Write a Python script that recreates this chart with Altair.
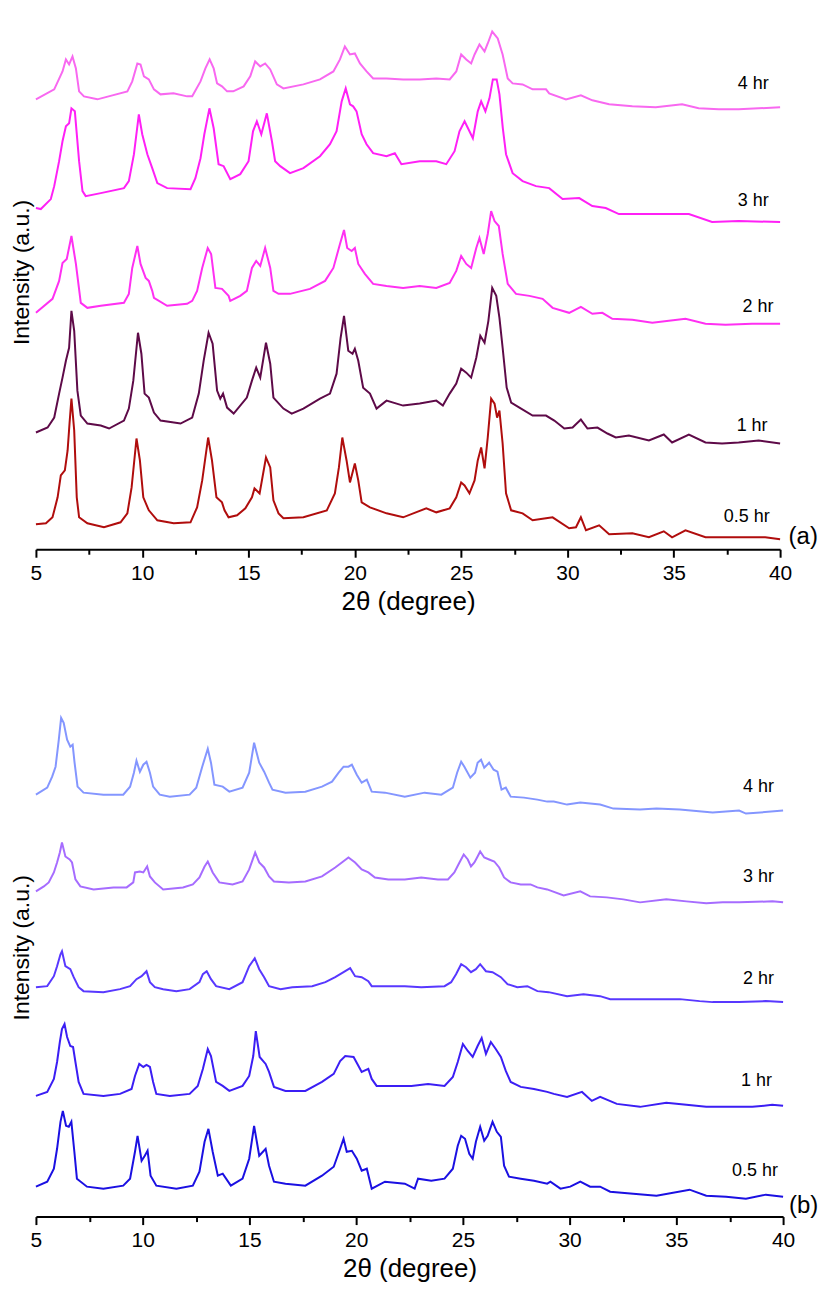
import altair as alt
import pandas as pd

FONT = "Liberation Sans"
SERIES = ["4 hr", "3 hr", "2 hr", "1 hr", "0.5 hr"]
X_TICKS = [5, 7.5, 10, 12.5, 15, 17.5, 20, 22.5, 25, 27.5, 30, 32.5, 35, 37.5, 40]

# ---------------- Panel (a) : 2theta (degree) / intensity (a.u., stacked) ----------------
a4_x = [5.00,5.86,6.25,6.41,6.56,6.72,6.88,7.03,7.26,7.89,9.30,9.53,9.77,9.92,10.08,10.31,10.55,10.86,11.47,12.11,
        12.35,12.74,12.97,13.17,13.36,13.52,13.75,13.99,14.28,14.77,15.08,15.31,15.55,15.78,16.02,16.33,16.64,17.58,18.36,18.99,
        19.30,19.53,19.77,20.00,20.24,20.55,20.86,21.49,22.27,23.05,23.83,24.46,24.77,25.00,25.24,25.47,25.63,25.86,26.10,26.25,
        26.46,26.72,26.95,27.19,27.42,27.89,28.36,28.99,29.14,29.93,30.63,31.17,31.96,33.05,34.15,35.39,36.17,37.11,38.05,38.99,40.00]
a4_y = [451,461,479,491,486,494,482,459,454,451,459,469,487,486,474,471,461,456,457,454,
        454,469,482,491,482,467,464,459,459,464,474,489,484,487,481,466,462,466,471,479,
        491,504,496,497,487,479,472,472,471,471,472,471,479,496,491,487,496,506,499,507,
        519,512,496,472,467,466,461,461,457,451,455,450,446,444,443,446,442,441,441,442,443]

a3_x = [5.00,5.23,5.70,5.86,6.09,6.25,6.41,6.56,6.67,6.83,7.03,7.19,7.34,8.05,9.14,9.37,9.61,9.84,10.00,10.24,
        10.47,10.71,11.17,12.27,12.50,12.74,12.92,13.16,13.36,13.59,13.83,14.14,14.61,15.00,15.21,15.39,15.60,15.86,16.10,16.25,
        16.49,16.95,17.58,18.36,18.83,19.14,19.38,19.57,19.77,19.92,20.08,20.32,20.55,20.86,21.49,21.88,22.19,23.05,23.83,24.30,
        24.69,24.92,25.16,25.39,25.55,25.78,25.94,26.14,26.33,26.49,26.67,26.80,26.96,27.11,27.42,27.89,28.52,29.14,29.77,30.55,
        31.17,31.80,32.42,33.36,34.61,35.71,36.80,38.05,40.00]
a3_y = [342,341,351,364,389,409,424,427,442,439,389,359,354,357,362,369,396,436,416,396,
        382,367,362,361,372,392,416,442,422,386,384,371,376,389,419,429,416,437,409,389,
        384,377,382,394,406,419,449,462,446,444,439,416,406,397,394,397,386,389,389,386,
        399,419,429,419,412,439,449,439,452,471,471,456,422,396,377,369,364,362,351,352,
        344,342,336,336,336,336,328,329,328]

a2_x = [5.00,5.78,6.09,6.25,6.45,6.67,6.88,7.11,7.42,8.05,9.14,9.37,9.53,9.77,9.92,10.16,10.31,10.47,10.55,11.17,
        12.11,12.35,12.58,12.82,13.08,13.24,13.44,13.75,14.06,14.14,14.61,14.92,15.16,15.36,15.55,15.78,16.02,16.17,16.41,16.95,
        17.89,18.60,18.99,19.30,19.49,19.64,19.85,20.00,20.16,20.47,20.86,21.49,22.27,23.05,23.83,24.46,24.77,25.00,25.24,25.47,
        25.71,25.86,26.06,26.25,26.41,26.57,26.77,26.95,27.19,27.58,28.21,28.83,29.30,30.08,30.63,31.17,31.64,32.11,33.05,33.99,
        35.55,36.49,37.43,38.68,40.00]
a2_y = [237,251,269,287,291,314,286,247,242,244,247,256,282,304,286,272,269,259,252,244,
        246,249,259,282,302,296,262,261,254,249,254,259,282,289,284,302,282,259,256,256,
        261,269,282,306,320,302,299,302,286,276,266,264,262,264,262,267,279,294,286,282,
        302,312,296,316,339,329,324,296,266,256,254,251,242,237,243,236,237,231,230,227,
        231,226,225,226,226]

a1_x = [5.00,5.55,5.86,6.09,6.25,6.41,6.49,6.56,6.67,6.80,6.95,7.11,7.42,8.05,8.44,9.14,9.37,9.58,9.80,9.96,
        10.11,10.31,10.55,10.86,11.80,12.35,12.66,12.89,13.12,13.31,13.52,13.67,13.80,13.99,14.30,14.92,15.16,15.36,15.55,15.82,
        16.02,16.17,16.64,17.03,17.58,18.36,18.83,19.14,19.33,19.49,19.69,19.89,20.00,20.16,20.39,20.71,21.02,21.49,22.27,23.05,
        23.83,24.14,24.46,24.77,25.00,25.24,25.47,25.71,25.90,26.10,26.28,26.46,26.65,26.80,26.95,27.14,27.35,27.74,28.36,28.99,
        29.38,29.85,30.24,30.63,30.94,31.41,31.88,32.27,32.89,33.83,34.53,34.92,35.71,36.49,37.27,38.05,38.99,40.00]
a1_y = [117,122,132,156,172,189,196,202,239,219,159,134,126,124,121,129,141,169,217,196,
        156,152,137,129,126,132,156,189,217,206,159,151,156,142,136,152,169,182,172,207,
        186,152,141,136,141,151,156,176,212,234,199,196,201,189,162,156,141,149,144,146,
        149,144,156,166,181,177,172,192,214,207,229,262,254,232,202,162,147,142,134,134,
        129,121,122,130,121,122,116,112,114,109,115,107,115,107,106,107,109,106]

a05_x = [5.00,5.47,5.78,6.02,6.17,6.36,6.49,6.58,6.67,6.80,6.92,7.03,7.42,8.20,8.98,9.30,9.50,9.73,9.89,10.05,
         10.31,10.71,11.48,12.27,12.58,12.82,13.10,13.28,13.49,13.75,13.87,14.06,14.46,14.85,15.16,15.28,15.52,15.82,16.02,16.17,
         16.41,16.64,17.58,18.68,19.06,19.25,19.41,19.61,19.77,20.00,20.16,20.32,20.71,21.49,22.27,23.36,23.83,24.46,24.77,25.00,
         25.16,25.39,25.63,25.78,25.94,26.10,26.25,26.41,26.57,26.69,26.80,26.95,27.11,27.35,27.89,28.36,28.99,29.30,30.08,30.40,
         30.63,30.87,31.49,31.96,33.05,33.83,34.53,34.92,35.55,36.49,37.43,38.37,39.30,40.00]
a05_y = [25,26,32,52,74,79,99,126,151,119,52,32,26,22,27,36,62,111,89,52,
         39,29,26,27,42,69,112,89,52,47,39,32,34,41,52,61,56,92,82,49,
         36,31,32,39,56,82,112,89,67,86,69,47,42,36,32,41,37,41,52,67,
         64,56,69,89,102,81,112,151,146,132,139,106,56,39,36,29,31,32,21,22,
         32,19,24,15,16,12,18,12,19,12,12,12,12,10]

# ---------------- Panel (b) ----------------
b4_x = [5.00,5.53,5.76,5.92,6.07,6.18,6.30,6.46,6.61,6.72,6.81,6.95,7.23,8.16,9.09,9.41,9.59,9.71,9.87,10.03,
        10.18,10.34,10.49,10.80,11.27,12.20,12.51,12.79,13.05,13.20,13.36,13.75,14.06,14.68,14.99,15.22,15.46,15.69,15.92,16.08,
        16.69,17.62,18.40,18.87,19.18,19.41,19.64,19.80,20.03,20.26,20.50,20.73,21.35,22.28,23.21,23.99,24.53,24.73,24.92,25.07,
        25.35,25.57,25.69,25.85,26.00,26.23,26.44,26.62,26.81,27.01,27.24,27.86,28.49,28.95,29.26,29.88,30.50,31.43,32.05,33.30,
        34.07,35.16,36.70,37.94,38.26,40.00]
b4_y = [423,430,441,451,478,500,495,478,471,473,455,431,425,423,423,431,445,457,446,453,
        456,445,431,423,421,423,430,451,469,455,433,431,426,430,445,475,455,446,435,428,
        425,426,431,436,445,451,451,453,443,435,438,426,425,421,425,423,430,445,456,451,
        440,445,455,458,450,455,448,446,428,430,421,420,418,416,416,413,415,413,409,408,
        409,408,405,407,404,407]

b3_x = [5.00,5.37,5.60,5.84,5.99,6.12,6.22,6.38,6.58,6.69,6.85,7.08,7.70,8.63,9.25,9.56,9.64,9.87,10.03,10.21,
        10.34,10.57,10.96,11.89,12.35,12.66,12.90,13.05,13.28,13.59,14.21,14.68,14.99,15.27,15.46,15.69,15.92,16.15,16.85,17.62,
        18.40,19.02,19.33,19.64,19.95,20.26,20.57,20.88,21.51,22.28,23.05,23.83,24.30,24.60,24.84,25.04,25.23,25.38,25.54,25.69,
        25.81,26.00,26.23,26.47,26.70,26.93,27.24,27.71,28.17,28.49,28.95,29.72,30.50,30.96,31.74,32.52,33.30,34.53,35.47,36.40,
        37.17,37.94,39.50,40.00]
b3_y = [326,331,335,345,355,365,375,361,358,355,338,331,328,330,330,335,345,346,345,351,
        341,335,328,330,333,340,351,356,345,335,333,336,348,365,355,350,341,336,335,336,
        341,350,355,360,355,348,345,340,338,338,340,338,338,345,355,363,358,351,355,361,
        366,360,358,356,350,340,335,333,333,330,328,322,326,321,320,318,315,318,316,314,
        315,315,316,315]

b2_x = [5.00,5.53,5.84,5.99,6.15,6.22,6.38,6.61,6.77,7.00,7.23,8.16,8.94,9.41,9.71,9.95,10.18,10.34,10.57,10.96,
        11.58,12.20,12.66,12.82,13.00,13.20,13.44,14.06,14.68,14.99,15.25,15.46,15.69,15.92,16.46,17.01,17.94,18.56,19.02,19.41,
        19.72,19.95,20.26,20.57,20.73,21.51,22.28,23.05,24.14,24.45,24.68,24.92,25.15,25.38,25.61,25.81,26.08,26.39,26.78,27.09,
        27.55,28.02,28.49,29.02,29.88,30.65,31.43,31.90,32.98,34.07,35.16,36.09,36.70,37.94,39.19,40.00]
b2_y = [230,231,241,251,263,266,251,248,240,230,226,225,228,231,238,241,246,235,230,228,
        226,228,235,243,246,238,231,228,235,251,259,248,240,231,228,230,231,235,240,245,
        249,241,240,236,231,231,231,230,231,235,243,253,250,245,248,253,246,245,240,233,
        230,231,226,225,221,223,221,218,218,218,218,216,215,215,216,215]

b1_x = [5.00,5.53,5.84,5.99,6.12,6.22,6.34,6.46,6.61,6.74,6.85,7.00,7.23,8.16,8.94,9.48,9.64,9.84,10.03,10.18,
        10.34,10.49,10.64,11.27,12.20,12.58,12.82,13.05,13.20,13.44,13.75,14.06,14.68,14.99,15.18,15.30,15.48,15.76,15.92,16.15,
        16.69,17.62,18.40,18.95,19.25,19.49,19.88,20.11,20.26,20.57,20.73,20.96,21.66,22.59,23.37,24.14,24.53,24.76,25.00,25.23,
        25.46,25.69,25.88,26.08,26.31,26.54,26.78,27.01,27.24,27.71,28.33,28.95,29.26,29.88,30.58,31.04,31.43,32.21,33.30,34.53,
        35.47,36.40,37.33,38.56,39.49,40.00]
b1_y = [121,125,138,155,175,188,193,180,171,170,155,135,123,121,123,128,141,153,150,152,
        150,135,123,121,123,131,148,168,161,135,131,126,131,141,161,186,160,153,145,130,
        126,126,135,143,156,161,160,151,145,148,138,131,131,131,133,131,140,155,173,166,
        160,171,179,163,175,168,160,146,135,130,128,125,123,120,125,116,120,113,110,114,
        112,110,110,110,112,111]

b05_x = [5.00,5.53,5.84,5.99,6.15,6.26,6.41,6.54,6.66,6.80,6.92,7.39,8.16,9.09,9.41,9.64,9.76,9.95,10.10,10.23,
         10.37,10.64,11.58,12.35,12.66,12.90,13.08,13.28,13.52,13.75,14.13,14.68,14.99,15.22,15.46,15.76,15.92,16.15,16.69,17.62,
         18.40,18.95,19.25,19.41,19.56,19.80,20.03,20.26,20.50,20.73,21.35,22.28,22.74,22.90,23.52,24.14,24.53,24.76,24.92,25.10,
         25.30,25.46,25.61,25.81,26.00,26.16,26.39,26.59,26.78,26.93,27.16,27.71,28.33,28.95,29.10,29.57,30.03,30.50,30.96,31.43,
         31.90,32.98,34.07,35.62,36.40,37.33,38.26,39.19,40.00]
b05_y = [30,35,48,68,95,106,91,90,95,65,38,30,28,31,38,65,81,56,61,66,
         41,31,28,31,45,75,88,65,41,43,31,38,58,91,61,68,51,35,33,31,
         41,50,68,78,65,66,58,46,48,28,35,33,28,38,36,38,48,71,81,78,
         63,58,75,90,76,81,95,85,80,51,40,38,36,33,35,28,30,35,30,30,
         25,23,21,27,21,20,18,22,20]

# trace labels (2theta of right edge, intensity of baseline)
a_lab_x = [39.46, 39.46, 39.69, 39.41, 39.51]
a_lab_y = [461, 344, 238, 119, 27]
b_lab_x = [39.57, 39.57, 39.57, 39.48, 39.76]
b_lab_y = [426, 335, 233, 131, 41]

A_COLORS = ["#f868f0", "#ff20f6", "#ff30f2", "#5e0a48", "#b00d0d"]
B_COLORS = ["#8496ff", "#a66cff", "#5838ff", "#3b1ef4", "#1b10e2"]


def long_df(xs, ys):
    rows = []
    for name, x, y in zip(SERIES, xs, ys):
        for xi, yi in zip(x, y):
            rows.append({"theta2": xi, "intensity": yi, "sample": name})
    return pd.DataFrame(rows)


def panel(xs, ys, colors, lab_x, lab_y, tag, tag_x, tag_y, w, h, title_y):
    xscale = alt.Scale(domain=[5, 40], nice=False, zero=False)
    yscale = alt.Scale(domain=[0, h], nice=False, zero=False)
    xaxis = alt.Axis(
        values=X_TICKS,
        labelExpr="datum.value % 5 === 0 ? datum.label : ''",
        tickSize={"condition": {"test": "datum.value % 5 === 0", "value": 8}, "value": 5},
        tickWidth=2, tickColor="black", domainWidth=2, domainColor="black",
        labelFont=FONT, labelFontSize=21, labelColor="black", labelPadding=5,
        labelFlush=False, labelOverlap=False, grid=False,
        title="2θ (degree)", titleFont=FONT, titleFontSize=26,
        titleFontWeight="normal", titleColor="black", titlePadding=5,
    )
    yaxis = alt.Axis(
        domain=False, ticks=False, labels=False, grid=False,
        title="Intensity (a.u.)", titleFont=FONT, titleFontSize=23,
        titleFontWeight="normal", titleColor="black", titlePadding=2, titleY=title_y,
    )
    xenc = alt.X("theta2:Q", scale=xscale, axis=xaxis)
    yenc = alt.Y("intensity:Q", scale=yscale, axis=yaxis)

    lines = alt.Chart(long_df(xs, ys)).mark_line(strokeWidth=2).encode(
        x=xenc, y=yenc,
        color=alt.Color("sample:N", scale=alt.Scale(domain=SERIES, range=colors), legend=None),
    )
    labels = alt.Chart(pd.DataFrame({"theta2": lab_x, "intensity": lab_y, "label": SERIES})).mark_text(
        align="right", baseline="alphabetic", font=FONT, fontSize=18, color="black"
    ).encode(x=xenc, y=yenc, text="label:N")
    tagc = alt.Chart(pd.DataFrame({"theta2": [tag_x], "intensity": [tag_y], "label": [tag]})).mark_text(
        align="left", baseline="alphabetic", font=FONT, fontSize=24, color="black"
    ).encode(x=xenc, y=yenc, text="label:N")
    return alt.layer(lines, labels, tagc).properties(width=w, height=h)


chart_a = panel([a4_x, a3_x, a2_x, a1_x, a05_x], [a4_y, a3_y, a2_y, a1_y, a05_y], A_COLORS,
                a_lab_x, a_lab_y, "(a)", 40.40, 5, 746, 541, 263)
chart_b = panel([b4_x, b3_x, b2_x, b1_x, b05_x], [b4_y, b3_y, b2_y, b1_y, b05_y], B_COLORS,
                b_lab_x, b_lab_y, "(b)", 40.28, 4, 749, 518, 248)

chart = alt.vconcat(chart_a, chart_b, spacing=151, bounds="flush").resolve_scale(
    color="independent"
).properties(
    padding={"left": 3, "top": 0, "right": 0, "bottom": 0}
).configure_view(stroke=None)

chart.save("out.html", embed_options={"renderer": "svg", "actions": False})
